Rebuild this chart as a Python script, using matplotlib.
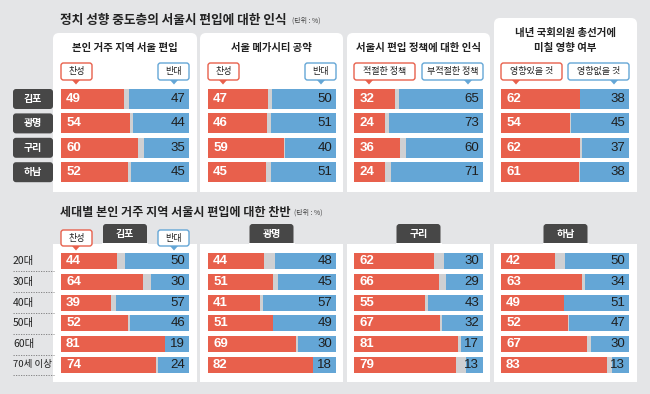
import matplotlib.pyplot as plt
from matplotlib.patches import FancyBboxPatch, Rectangle, Polygon

plt.rcParams['font.family'] = ['Noto Sans CJK KR', 'DejaVu Sans']

# ---- data ----
top_rows = ['김포', '광명', '구리', '하남']
top_titles = ['본인 거주 지역 서울 편입', '서울 메가시티 공약',
              '서울시 편입 정책에 대한 인식', '내년 국회의원 총선거에\n미칠 영향 여부']
top_yes_labels = ['찬성', '찬성', '적절한 정책', '영향있을 것']
top_no_labels = ['반대', '반대', '부적절한 정책', '영향없을 것']
top_yes = [[49, 54, 60, 52], [47, 46, 59, 45], [32, 24, 36, 24], [62, 54, 62, 61]]
top_no = [[47, 44, 35, 45], [50, 51, 40, 51], [65, 73, 60, 71], [38, 45, 37, 38]]

age_groups = ['20대', '30대', '40대', '50대', '60대', '70세 이상']
cities = ['김포', '광명', '구리', '하남']
age_yes = [[44, 64, 39, 52, 81, 74],
           [44, 51, 41, 51, 69, 82],
           [62, 66, 55, 67, 81, 79],
           [42, 63, 49, 52, 67, 83]]
age_no = [[50, 30, 57, 46, 19, 24],
          [48, 45, 57, 49, 30, 18],
          [30, 29, 43, 32, 17, 13],
          [50, 34, 51, 47, 30, 13]]

# ---- style ----
W, H = 650, 394
RED = '#e8604c'
BLUE = '#64a6d6'
GRAY = '#cfd0d2'
BG = '#e4e5e7'
DARK = '#474747'
NUM = ['Liberation Sans Narrow', 'Liberation Sans']

panel_x = [(53, 197), (200, 343), (347, 490), (494, 637)]
bar_x = [(61, 189), (208, 336), (354, 483), (501, 629)]

fig = plt.figure(figsize=(W / 100, H / 100), dpi=100, facecolor=BG)
bg = fig.add_axes([0, 0, 1, 1])
bg.set_xlim(0, W)
bg.set_ylim(H, 0)
bg.axis('off')
renderer = fig.canvas.get_renderer()


def fit_width(t, width_px):
    # scale a text so that it spans the width seen in the reference
    bb = t.get_window_extent(renderer)
    t.set_fontsize(t.get_fontsize() * width_px / bb.width)


def add_data_axes(x0, x1, y0, y1):
    return fig.add_axes([x0 / W, 1 - y1 / H, (x1 - x0) / W, (y1 - y0) / H])


def draw_bars(ax, yes, no, h, fs):
    idx = list(range(len(yes)))
    ax.barh(idx, [100] * len(yes), height=h, color=GRAY)
    ax.barh(idx, yes, height=h, color=RED)
    ax.barh(idx, no, left=[100 - v for v in no], height=h, color=BLUE)
    for i in idx:
        ax.text(4, i, str(yes[i]), color='white', fontweight='bold',
                fontsize=fs, va='center', ha='left', family=NUM)
        ax.text(97, i, str(no[i]), color='#1e1e1e', fontsize=fs,
                va='center', ha='right', family=NUM)
    ax.set_xlim(0, 100)
    ax.set_ylim(len(yes) - 0.5, -0.5)
    ax.axis('off')


def marker(x0, x1, y0, y1, color, label, tx):
    bg.add_patch(FancyBboxPatch((x0, y0), x1 - x0, y1 - y0,
                                boxstyle='round,pad=0,rounding_size=2.5',
                                fc='white', ec=color, lw=1))
    bg.add_patch(Polygon([(tx - 4, y1), (tx + 4, y1), (tx, y1 + 4.5)],
                         closed=True, fc=color, ec='none'))
    bg.text((x0 + x1) / 2, (y0 + y1) / 2, label, ha='center', va='center',
            fontsize=6.5, color='#222')


# ---- top section ----
t = bg.text(60, 20, '정치 성향 중도층의 서울시 편입에 대한 인식', fontsize=9,
            fontweight='bold', va='center', ha='left', color='#222')
fit_width(t, 228)
bg.text(292, 21, '(단위 : %)', fontsize=5, va='center', ha='left', color='#444')

top_tops = [33, 33, 33, 18]
title_w = [105, 80, 124, 100]
for p in range(4):
    px0, px1 = panel_x[p]
    bg.add_patch(FancyBboxPatch((px0, top_tops[p]), px1 - px0, 192 - top_tops[p],
                                boxstyle='round,pad=0,rounding_size=6',
                                fc='white', ec='none'))
    bg.add_patch(Rectangle((px0, 120), px1 - px0, 72, fc='white', ec='none'))
    cx = (px0 + px1) / 2
    if p < 3:
        t = bg.text(cx, 48, top_titles[p], ha='center', va='center', fontsize=7.2,
                    fontweight='bold', color='#222')
        fit_width(t, title_w[p])
    else:
        for k, line in enumerate(top_titles[p].split('\n')):
            bg.text(cx, 33 + 14.5 * k, line, ha='center', va='center',
                    fontsize=t.get_fontsize(), fontweight='bold', color='#222')
    bx0, bx1 = bar_x[p]
    w_yes = 31 if p < 2 else 61
    marker(bx0, bx0 + w_yes, 63, 80, RED, top_yes_labels[p], bx0 + 15)
    marker(bx1 - w_yes, bx1, 63, 80, BLUE, top_no_labels[p], bx1 - 15)
    ax = add_data_axes(bx0, bx1, 86.8, 184.4)
    draw_bars(ax, top_yes[p], top_no[p], 0.82, 9.5)

step = (184.4 - 86.8) / len(top_rows)
for i, name in enumerate(top_rows):
    yc = 86.8 + step * (i + 0.5)
    bg.add_patch(FancyBboxPatch((13, yc - 10), 40, 20,
                                boxstyle='round,pad=0,rounding_size=3',
                                fc=DARK, ec='none'))
    bg.text(33, yc, name, ha='center', va='center', fontsize=7.2,
            fontweight='bold', color='white')

# ---- bottom section ----
t = bg.text(60, 212, '세대별 본인 거주 지역 서울시 편입에 대한 찬반', fontsize=9,
            fontweight='bold', va='center', ha='left', color='#222')
fit_width(t, 230)
bg.text(294, 213, '(단위 : %)', fontsize=5, va='center', ha='left', color='#444')

for p in range(4):
    px0, px1 = panel_x[p]
    bg.add_patch(Rectangle((px0, 244), px1 - px0, 138, fc='white', ec='none'))
    cx = (px0 + px1) / 2
    bg.add_patch(FancyBboxPatch((cx - 22, 224), 44, 22,
                                boxstyle='round,pad=0,rounding_size=3',
                                fc=DARK, ec='none'))
    bg.add_patch(Rectangle((cx - 23, 243), 46, 4, fc='white', ec='none'))
    bg.text(cx, 233.5, cities[p], ha='center', va='center', fontsize=7.2,
            fontweight='bold', color='white')
    bx0, bx1 = bar_x[p]
    ax = add_data_axes(bx0, bx1, 250.6, 375.4)
    draw_bars(ax, age_yes[p], age_no[p], 0.77, 9.5)

marker(61, 92, 230, 246, RED, '찬성', 76)
marker(158, 189, 230, 246, BLUE, '반대', 174)

step = (375.4 - 250.6) / len(age_groups)
for i, name in enumerate(age_groups):
    yc = 250.6 + step * (i + 0.5)
    t = bg.text(13, yc, name, ha='left', va='center', fontsize=7.5, color='#222')
    if i == len(age_groups) - 1:
        fit_width(t, 39)
    bg.plot([13, 54], [yc + step / 2, yc + step / 2], color='#777', lw=0.6,
            ls=(0, (1.5, 1.5)))

fig.savefig('out.png', dpi=100, facecolor=BG)
